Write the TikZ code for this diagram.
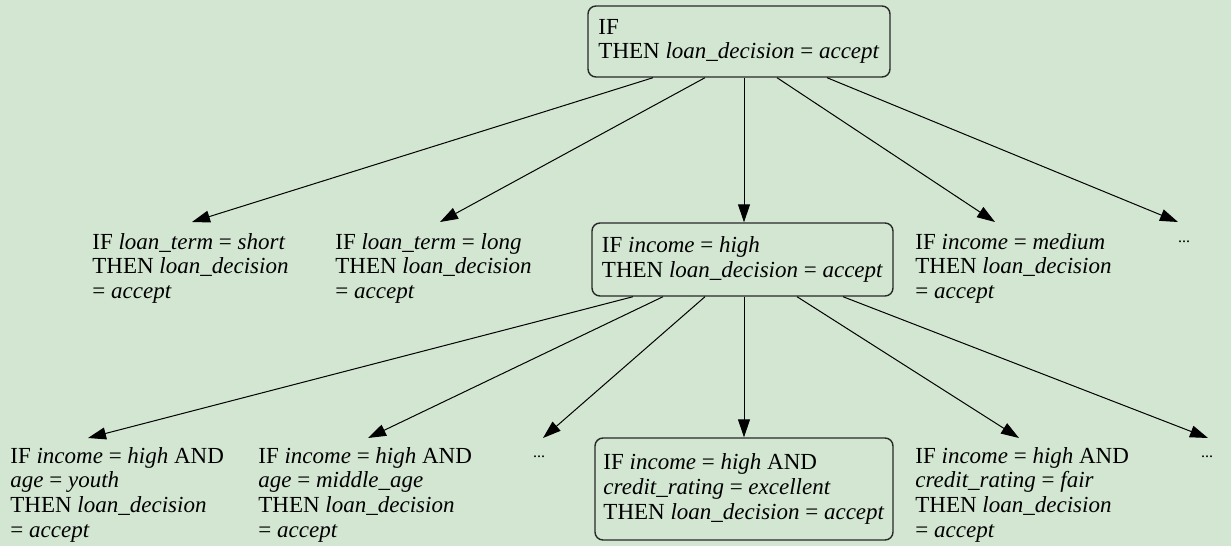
\documentclass[tikz,border=0pt]{standalone}
\usepackage{fontspec}
\setmainfont{Liberation Serif}
\usetikzlibrary{arrows.meta,calc}
\definecolor{bg}{RGB}{210,230,210}
\definecolor{boxline}{RGB}{40,40,40}
\begin{document}
\begin{tikzpicture}[x=0.5pt,y=-0.5pt,
  every node/.style={font=\fontsize{11.5}{12.4}\selectfont},
  rule/.style={align=left,inner sep=0pt,anchor=base west},
  rulebox/.style={draw=boxline,line width=0.7pt,rounded corners=4pt,align=left,inner sep=0pt},
  arr/.style={-{Triangle[length=9pt,width=6pt]},line width=0.5pt},
  dotsnode/.style={inner sep=0pt,font=\fontsize{8}{8}\selectfont}]
\fill[bg] (0,0) rectangle (1231,546);
\useasboundingbox (0,0) rectangle (1231,546);

% boxed rules
\node[rulebox,minimum width=151pt,minimum height=35.5pt] (top) at (739,41.5)
  {IF\\THEN \textit{loan\_decision} = \textit{accept}};
\node[rulebox,minimum width=150.5pt,minimum height=36.5pt] (c) at (742.5,259.5)
  {IF \textit{income} = \textit{high}\\THEN \textit{loan\_decision} = \textit{accept}};
\node[rulebox,minimum width=149pt,minimum height=51pt] (i) at (744,489)
  {IF \textit{income} = \textit{high} AND\\\textit{credit\_rating} = \textit{excellent}\\THEN \textit{loan\_decision} = \textit{accept}};

% level 2 plain rules (anchored at the baseline of their last line)
\node[rule] (a) at (92,298.6) {IF \textit{loan\_term} = \textit{short}\\THEN \textit{loan\_decision}\\= \textit{accept}};
\node[rule] (b) at (335,298.6) {IF \textit{loan\_term} = \textit{long}\\THEN \textit{loan\_decision}\\= \textit{accept}};
\node[rule] (d) at (915,298.6) {IF \textit{income} = \textit{medium}\\THEN \textit{loan\_decision}\\= \textit{accept}};
\node[dotsnode] (e) at (1184,242) {...};

% level 3 plain rules
\node[rule] (f) at (10,537.4) {IF \textit{income} = \textit{high} AND\\\textit{age} = \textit{youth}\\THEN \textit{loan\_decision}\\= \textit{accept}};
\node[rule] (g) at (258,537.4) {IF \textit{income} = \textit{high} AND\\\textit{age} = \textit{middle\_age}\\THEN \textit{loan\_decision}\\= \textit{accept}};
\node[dotsnode] (h) at (539,457) {...};
\node[rule] (j) at (915,537.4) {IF \textit{income} = \textit{high} AND\\\textit{credit\_rating} = \textit{fair}\\THEN \textit{loan\_decision}\\= \textit{accept}};
\node[dotsnode] (k) at (1207,457) {...};

% connectors from top
\draw[arr] ($(top.south)+(-86,0)$) -- ($(a.base west)+(100,-76.6)$);
\draw[arr] ($(top.south)+(-34,0)$) -- ($(b.base west)+(105,-76.6)$);
\draw[arr] ($(top.south)+(5,0)$) -- ($(c.north)+(1.5,0)$);
\draw[arr] ($(top.south)+(38,0)$) -- ($(d.base west)+(80,-76.6)$);
\draw[arr] ($(top.south)+(88,0)$) -- ($(e.center)+(-6,-20)$);

% connectors from c
\draw[arr] ($(c.south)+(-109.5,0)$) -- ($(f.base west)+(78,-99.4)$);
\draw[arr] ($(c.south)+(-79.5,0)$) -- ($(g.base west)+(110,-99.4)$);
\draw[arr] ($(c.south)+(-37.5,0)$) -- ($(h.center)+(4,-19)$);
\draw[arr] ($(c.south)+(1.5,0)$) -- (i.north);
\draw[arr] ($(c.south)+(54.5,0)$) -- ($(j.base west)+(104,-99.4)$);
\draw[arr] ($(c.south)+(100.5,0)$) -- ($(k.center)+(1,-19)$);
\end{tikzpicture}
\end{document}
